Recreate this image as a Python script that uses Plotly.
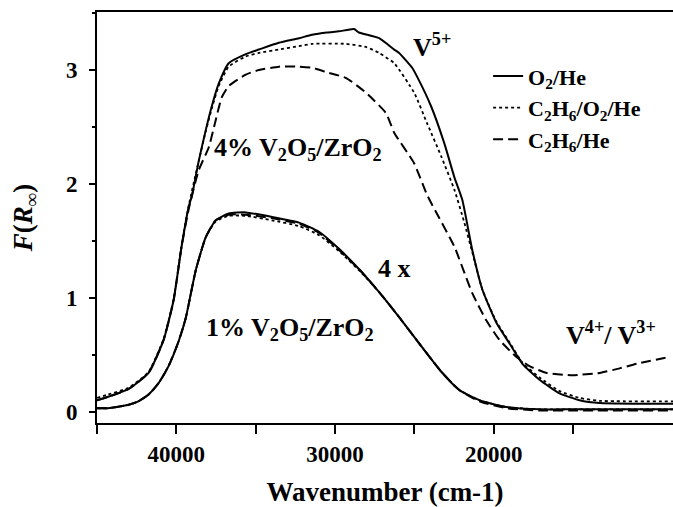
import plotly.graph_objects as go

# ---- data ----
wn_4_o2 = [45000, 44300, 43000, 41750, 40800, 40170, 39670, 39220, 39030, 38590, 38150, 37770, 37330, 36700,
           35620, 34800, 33540, 32270, 31450, 30500, 29750, 28800, 28500, 27220, 26270, 25960, 25140, 24820,
           23940, 23120, 22480, 21980, 21350, 20710, 19830, 19010, 18190, 17110, 15850, 14590, 13320, 11000, 8700]
f_4_o2 = [0.10, 0.13, 0.20, 0.34, 0.63, 0.98, 1.45, 1.80, 1.89, 2.20, 2.47, 2.68, 2.88, 3.06,
          3.14, 3.18, 3.24, 3.28, 3.31, 3.33, 3.34, 3.36, 3.33, 3.28, 3.18, 3.15, 3.02, 2.94,
          2.68, 2.36, 2.06, 1.86, 1.42, 1.07, 0.78, 0.60, 0.42, 0.28, 0.16, 0.10, 0.075, 0.07, 0.07]

wn_4_mix = [45000, 44300, 43000, 41750, 40800, 40170, 39670, 39220, 38590, 38150, 37770, 37330, 36700,
            35620, 34800, 33540, 32270, 31450, 29300, 28000, 27220, 26270, 25010, 24190, 23300, 22480,
            21850, 21350, 20710, 19830, 19010, 18190, 17110, 15850, 14590, 13320, 8700]
f_4_mix = [0.12, 0.15, 0.21, 0.35, 0.64, 0.99, 1.46, 1.81, 2.20, 2.46, 2.66, 2.86, 3.03,
           3.12, 3.15, 3.18, 3.21, 3.23, 3.23, 3.20, 3.15, 3.06, 2.80, 2.53, 2.24, 1.95,
           1.66, 1.40, 1.07, 0.79, 0.61, 0.43, 0.30, 0.18, 0.12, 0.095, 0.09]

wn_4_eth = [45000, 44300, 43000, 41750, 40800, 40170, 39670, 39220, 38590, 37960, 37520, 37140, 36700,
            35620, 34800, 33540, 32270, 31450, 30500, 29300, 28040, 26780, 26270, 25010, 24190, 23430,
            22480, 21350, 20460, 19640, 18570, 17750, 16670, 15030, 13320, 12060, 10990, 8900]
f_4_eth = [0.10, 0.13, 0.20, 0.34, 0.63, 0.98, 1.45, 1.78, 2.12, 2.32, 2.56, 2.76, 2.86,
           2.96, 3.00, 3.03, 3.03, 3.02, 2.98, 2.93, 2.80, 2.62, 2.45, 2.18, 1.90, 1.70,
           1.45, 1.04, 0.80, 0.63, 0.48, 0.40, 0.34, 0.32, 0.34, 0.38, 0.42, 0.48]

wn_1 = [45000, 44300, 43000, 42400, 41750, 41120, 40490, 39850, 39410, 38780, 38150, 37520, 36700,
        35620, 33980, 32270, 31010, 29750, 28480, 27220, 25960, 25140, 23300, 22170, 20900, 19200, 17110, 15000, 8700]
f_1_o2 = [0.03, 0.03, 0.06, 0.09, 0.15, 0.25, 0.40, 0.62, 0.82, 1.24, 1.53, 1.68, 1.74,
          1.75, 1.71, 1.66, 1.58, 1.43, 1.25, 1.05, 0.83, 0.68, 0.35, 0.19, 0.10, 0.04, 0.02, 0.02, 0.02]
f_1_mix = [0.03, 0.03, 0.06, 0.09, 0.15, 0.25, 0.40, 0.62, 0.82, 1.24, 1.53, 1.67, 1.72,
           1.72, 1.68, 1.63, 1.55, 1.41, 1.24, 1.05, 0.83, 0.68, 0.35, 0.19, 0.10, 0.04, 0.02, 0.02, 0.02]
f_1_eth = [0.03, 0.03, 0.06, 0.09, 0.15, 0.25, 0.40, 0.62, 0.82, 1.24, 1.53, 1.68, 1.73,
           1.73, 1.70, 1.65, 1.57, 1.42, 1.25, 1.05, 0.83, 0.68, 0.35, 0.19, 0.09, 0.03, 0.01, 0.01, 0.01]

x_tickvals = [45000, 40000, 35000, 30000, 25000, 20000, 15000]
x_ticktext = ["", "40000", "", "30000", "", "20000", ""]
y_tickvals = [0, 1, 2, 3]

names = ["O<sub>2</sub>/He", "C<sub>2</sub>H<sub>6</sub>/O<sub>2</sub>/He", "C<sub>2</sub>H<sub>6</sub>/He"]
dashes = ["solid", "dot", "10px,5px"]

FONT = "Liberation Serif"
fig = go.Figure()

sets_4 = [(wn_4_o2, f_4_o2), (wn_4_mix, f_4_mix), (wn_4_eth, f_4_eth)]
sets_1 = [(wn_1, f_1_o2), (wn_1, f_1_mix), (wn_1, f_1_eth)]
for i in range(3):
    w = 2 if i != 1 else 1.8
    fig.add_trace(go.Scatter(x=sets_4[i][0], y=sets_4[i][1], mode="lines", name=names[i],
                             legendgroup=str(i),
                             line=dict(color="black", width=w, dash=dashes[i], shape="spline", smoothing=0.5)))
for i in range(3):
    w = 2 if i != 1 else 1.8
    fig.add_trace(go.Scatter(x=sets_1[i][0], y=sets_1[i][1], mode="lines", name=names[i],
                             legendgroup=str(i), showlegend=False,
                             line=dict(color="black", width=w, dash=dashes[i], shape="spline", smoothing=0.5)))

ann_font = dict(family=FONT, size=26, color="black", weight="bold")
labels = [
    (23900, 3.22, "V<sup>5+</sup>"),
    (32340, 2.31, "4% V<sub>2</sub>O<sub>5</sub>/ZrO<sub>2</sub>"),
    (26280, 1.26, "4 x"),
    (32840, 0.73, "1% V<sub>2</sub>O<sub>5</sub>/ZrO<sub>2</sub>"),
    (12630, 0.69, "V<sup>4+</sup>/ V<sup>3+</sup>"),
]
for x, y, t in labels:
    fig.add_annotation(x=x, y=y, text=t, showarrow=False, font=ann_font, xanchor="center", yanchor="middle")

fig.update_layout(
    width=673, height=507,
    margin=dict(l=97, r=0, t=12, b=84),
    paper_bgcolor="white", plot_bgcolor="white",
    font=dict(family=FONT, color="black"),
    showlegend=True,
    legend=dict(x=0.679, y=0.895, xanchor="left", yanchor="top", bgcolor="rgba(0,0,0,0)",
                font=dict(family=FONT, size=22, color="black", weight="bold"),
                itemwidth=30, tracegroupgap=0),
)
fig.update_xaxes(
    range=[45000, 8700], autorange=False, automargin=False,
    tickvals=x_tickvals, ticktext=x_ticktext,
    ticks="outside", ticklen=9, tickwidth=2, tickcolor="black",
    showline=True, linecolor="black", linewidth=2, mirror=True,
    showgrid=False, zeroline=False,
    tickfont=dict(family=FONT, size=23, color="black", weight="bold"),
    title=dict(text="Wavenumber (cm-1)", font=dict(family=FONT, size=27, color="black", weight="bold"), standoff=18),
)
fig.update_yaxes(
    range=[-0.1, 3.51], autorange=False, automargin=False,
    tickvals=y_tickvals,
    ticks="outside", ticklen=6, tickwidth=2, tickcolor="black", ticklabelstandoff=7,
    minor=dict(dtick=0.5, tick0=0, ticks="outside", ticklen=3, tickwidth=1.5, tickcolor="black"),
    showline=True, linecolor="black", linewidth=2, mirror=False,
    showgrid=False, zeroline=False,
    tickfont=dict(family=FONT, size=23, color="black", weight="bold"),
    title=dict(text="<i>F</i>(<i>R</i><sub>∞</sub>)", font=dict(family=FONT, size=27, color="black", weight="bold"), standoff=25),
)

fig.write_html("out.html", config={"displayModeBar": False},
               post_script="document.body.style.margin='0px';")
